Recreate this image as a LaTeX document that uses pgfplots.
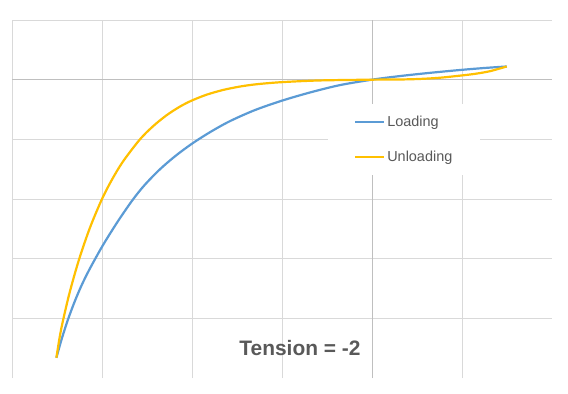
\documentclass[border=0pt]{standalone}
\usepackage{pgfplots}
\pgfplotsset{compat=1.18}
\usepackage{fontspec}
\setmainfont{Liberation Sans}
\definecolor{lblue}{HTML}{5B9BD5}
\definecolor{lgold}{HTML}{FFC000}
\definecolor{gridc}{HTML}{D9D9D9}
\definecolor{axc}{HTML}{BFBFBF}
\definecolor{txt}{HTML}{595959}
\begin{document}
\begin{tikzpicture}
\path[use as bounding box, fill=white] (0,0) rectangle (568bp,394bp);
\begin{axis}[
  at={(12bp,16bp)}, anchor=south west,
  scale only axis, width=540bp, height=358bp,
  xmin=-4, xmax=2, ymin=-5, ymax=1,
  xtick={-4,-3,-2,-1,1}, ytick={-4,-3,-2,-1,1},
  extra x ticks={0}, extra y ticks={0},
  extra tick style={grid style={draw=axc, line width=0.8bp}},
  xticklabels={}, yticklabels={},
  extra x tick labels={}, extra y tick labels={},
  major tick length=0pt,
  grid=major,
  grid style={draw=gridc, line width=0.8bp},
  axis line style={draw=none},
  legend style={at={(axis cs:-0.49,-0.41)}, anchor=north west,
    draw=none, fill=white, font=\fontsize{14.5}{17}\selectfont, text=txt,
    inner xsep=26bp, inner ysep=10bp, row sep=19bp},
  legend cell align=left,
  legend image code/.code={\draw[#1] (0bp,0bp) -- (29bp,0bp);},
]
\addplot[lblue, line width=2.2bp, smooth] coordinates {
(-3.507,-4.662) (-3.448,-4.347) (-3.378,-4.020) (-3.303,-3.717) (-3.226,-3.444)
(-3.137,-3.173) (-3.007,-2.819) (-2.914,-2.588) (-2.803,-2.327) (-2.656,-2.008)
(-2.526,-1.765) (-2.359,-1.506) (-2.192,-1.288) (-2.007,-1.080) (-1.803,-0.883)
(-1.581,-0.697) (-1.303,-0.511) (-1.007,-0.355) (-0.692,-0.216) (-0.359,-0.092)
(0,0) (0.308,0.060) (0.641,0.114) (0.993,0.164) (1.252,0.196) (1.497,0.221)
};
\addlegendentry{Loading}
\addplot[lgold, line width=2.2bp, smooth] coordinates {
(-3.507,-4.662) (-3.470,-4.313) (-3.433,-4.035) (-3.359,-3.564) (-3.256,-3.018)
(-3.137,-2.494) (-3.007,-2.023) (-2.892,-1.683) (-2.767,-1.372) (-2.581,-1.005)
(-2.433,-0.781) (-2.284,-0.598) (-2.137,-0.454) (-2.007,-0.353) (-1.840,-0.253)
(-1.656,-0.173) (-1.470,-0.116) (-1.284,-0.077) (-1.007,-0.042) (-0.581,-0.013)
(0,0) (0.308,0.003) (0.530,0.012) (0.752,0.032) (0.993,0.070) (1.141,0.097)
(1.308,0.141) (1.497,0.221)
};
\addlegendentry{Unloading}
\node[font=\bfseries\fontsize{21}{24}\selectfont, text=txt] at (axis cs:-0.8,-4.49) {Tension = -2};
\end{axis}
\end{tikzpicture}
\end{document}
